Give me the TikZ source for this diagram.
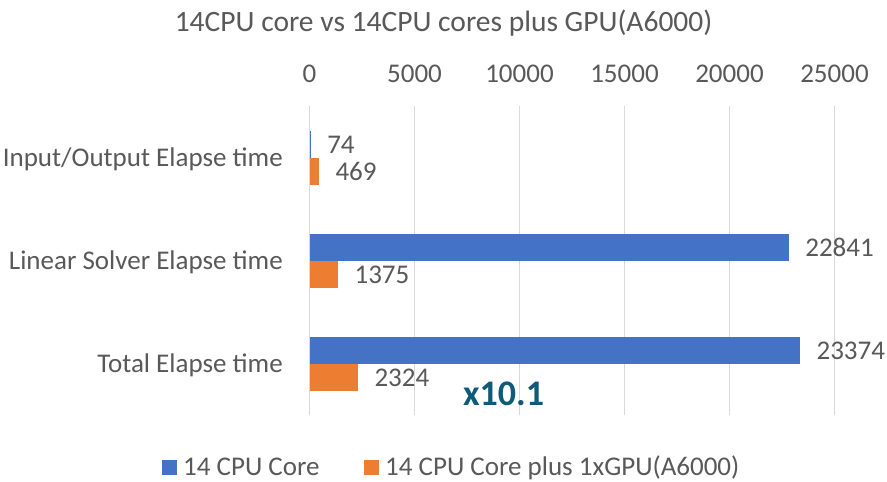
\documentclass[tikz,border=0pt]{standalone}
\usepackage{fontspec}
\setmainfont{Carlito}
\definecolor{barblue}{HTML}{4472C4}
\definecolor{barorange}{HTML}{ED7D31}
\definecolor{gridgray}{HTML}{D9D9D9}
\definecolor{txtgray}{HTML}{595959}
\definecolor{accent}{HTML}{0E5A78}
\begin{document}
\begin{tikzpicture}[x=1pt,y=-1pt,
  lbl/.style={inner sep=0pt,text=txtgray,font=\fontsize{27}{32}\selectfont},
  ttl/.style={inner sep=0pt,text=txtgray,font=\fontsize{29.5}{34}\selectfont},
  grid line/.style={draw=gridgray,line width=1.6pt},
  bluebar/.style={fill=barblue},
  orangebar/.style={fill=barorange}]
\fill[white] (0,0) rectangle (887,482);
\useasboundingbox (0,0) rectangle (887,482);
% title
\node[ttl,anchor=base] (title) at (443.5,31) {14CPU core vs 14CPU cores plus GPU(A6000)};
% gridlines and tick labels (\k = value/5000)
\foreach \k/\lab [count=\i] in {0/0,1/5000,2/10000,3/15000,4/20000,5/25000}{
  \coordinate (gt\i) at ({309.5+\k*105},106);
  \coordinate (gb\i) at ({309.5+\k*105},415);
  \draw[grid line] (gt\i) -- (gb\i);
  \node[lbl,anchor=base] (tick\i) at ({309.5+\k*105},82.5) {\lab};
}
% categories (widths in px: value*0.021)
\foreach \name/\b/\bw/\o/\ow [count=\i from 0] in {{Input/Output Elapse time}/74/1.554/469/9.849, {Linear Solver Elapse time}/22841/479.661/1375/28.875, {Total Elapse time}/23374/490.854/2324/48.804}{
  \pgfmathsetmacro{\c}{157.5+103*\i}
  \node[lbl,anchor=base east] (cat\i) at (283,\c+8.9) {\name};
  \fill[bluebar] (309.5,\c-27) rectangle ({309.5+\bw},\c);
  \fill[orangebar] (309.5,\c) rectangle ({309.5+\ow},\c+27);
  \node[lbl,anchor=base west] (vb\i) at ({309.5+\bw+16},\c-13.5+9.5) {\b};
  \node[lbl,anchor=base west] (vo\i) at ({309.5+\ow+16},\c+13.5+9.5) {\o};
}
% speed-up annotation
\node[inner sep=0pt,anchor=base west,text=accent,font=\fontsize{36}{41}\selectfont\bfseries] (speedup) at (463,405) {x10.1};
% legend
\fill[barblue] (162,460) rectangle (177,475);
\node[lbl,anchor=base west] (leg1) at (183,475.5) {14 CPU Core};
\fill[barorange] (364,460) rectangle (379,475);
\node[lbl,anchor=base west] (leg2) at (385,475.5) {14 CPU Core plus 1xGPU(A6000)};
\end{tikzpicture}
\end{document}
